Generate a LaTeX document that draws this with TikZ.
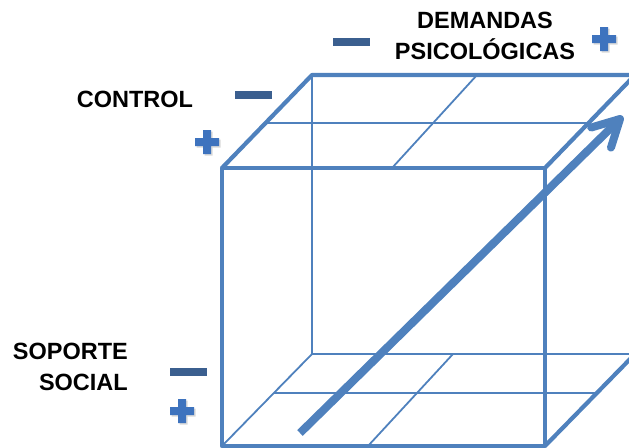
\documentclass[tikz,border=0pt]{standalone}
\usepackage{fontspec}
\setmainfont{Liberation Sans}
\usetikzlibrary{arrows.meta, calc, shadows, positioning}
\definecolor{cubeBlue}{RGB}{79,129,189}
\definecolor{minusBlue}{RGB}{59,95,143}
\definecolor{plusBlue}{RGB}{62,115,190}
\tikzset{
    thickEdge/.style={draw=cubeBlue, line width=4.2pt, line join=round},
    thinEdge/.style={draw=cubeBlue, line width=1.8pt},
    axisLabel/.style={font=\fontsize{23.5}{31}\selectfont\bfseries, inner sep=0pt},
    minusSign/.style={rectangle, fill=minusBlue, inner sep=0pt, minimum width=37pt, minimum height=8pt},
    plusSign/.style={fill=plusBlue, drop shadow={shadow xshift=1.5pt, shadow yshift=-1.5pt, opacity=0.3}},
    arrowShadow/.style={preaction={draw=black, opacity=0.15, transform canvas={xshift=2pt, yshift=-2pt}}},
    bigArrow/.style={draw=cubeBlue, line width=8pt, arrowShadow},
    arrowBarb/.style={draw=cubeBlue, line width=8pt, line cap=round, line join=round, arrowShadow},
}
\newcommand{\drawPlus}[2]{
    % cruz rellena centrada en #2
    \coordinate (#1) at (#2);
    \fill[plusSign] (#1) ++(-4,-12) -- ++(8,0) -- ++(0,8) -- ++(8,0) -- ++(0,8) -- ++(-8,0)
        -- ++(0,8) -- ++(-8,0) -- ++(0,-8) -- ++(-8,0) -- ++(0,-8) -- ++(8,0) -- cycle;
}

\begin{document}
\begin{tikzpicture}[x=1pt, y=-1pt]

        \useasboundingbox (0,0) rectangle (629,447);
        \clip (0,0) rectangle (629,447);

        % cara frontal y cara trasera
        \coordinate (FTL) at (222,168);
        \coordinate (FTR) at (545,168);
        \coordinate (FBR) at (545,446);
        \coordinate (FBL) at (222,446);
        \coordinate (BTL) at (312,75);
        \coordinate (BTR) at (635,75);
        \coordinate (BBR) at (635,354);
        \coordinate (BBL) at (312,354);

        % rejilla de la cara superior e inferior
        \coordinate (topBack) at (477,75);
        \coordinate (topFront) at (392,168);
        \coordinate (botBack) at (453,354);
        \coordinate (botFront) at (368,446);

        \draw[thinEdge] (BTL) -- (BBL);
        \draw[thinEdge] (BBL) -- (BBR);
        \draw[thinEdge] (FBL) -- (BBL);
        \draw[thinEdge] ($(FTL)!0.48!(BTL)$) -- ($(FTR)!0.48!(BTR)$);
        \draw[thinEdge] (topBack) -- (topFront);
        \draw[thinEdge] ($(FBL)!0.576!(BBL)$) -- ($(FBR)!0.576!(BBR)$);
        \draw[thinEdge] (botBack) -- (botFront);

        \draw[thickEdge] (FTL) -- (FTR) -- (FBR) -- (FBL) -- cycle;
        \draw[thickEdge] (FTL) -- (BTL) -- (BTR);
        \draw[thickEdge] (FTR) -- (BTR);
        \draw[thickEdge] (FBR) -- (BBR);

        % flecha con punta abierta
        \coordinate (arrowStart) at (300,433);
        \coordinate (arrowEnd) at (620,119);
        \draw[bigArrow] (arrowStart) -- ($(arrowEnd)!3pt!(arrowStart)$);
        \draw[arrowBarb] ($(arrowEnd)!30pt!-28:(arrowStart)$) -- (arrowEnd) -- ($(arrowEnd)!30pt!28:(arrowStart)$);

        \node[axisLabel, align=center] (demandas) at (485,36) {DEMANDAS\\PSICOLÓGICAS};
        \node[axisLabel] (control) at (135,99) {CONTROL};
        \node[axisLabel, align=right, anchor=east] (soporte) at (128,367) {SOPORTE\\SOCIAL};

        \node[minusSign] (demMinus) at (351,42) {};
        \node[minusSign] (ctrlMinus) at (253,95) {};
        \node[minusSign] (sopMinus) at (188,372) {};

        \drawPlus{demPlus}{604,39}
        \drawPlus{ctrlPlus}{207,142}
        \drawPlus{sopPlus}{182,411}

    \end{tikzpicture}
\end{document}
